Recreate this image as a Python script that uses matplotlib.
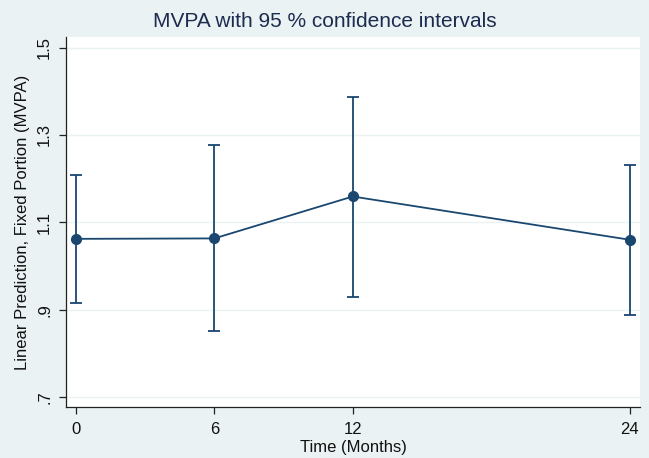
import matplotlib
matplotlib.use("Agg")
import matplotlib.pyplot as plt
import numpy as np

# marginsplot values
months = [0, 6, 12, 24]
mvpa = [1.062, 1.063, 1.159, 1.060]
ci_low = [0.915, 0.851, 0.928, 0.887]
ci_high = [1.209, 1.276, 1.387, 1.232]
yticks = [0.7, 0.9, 1.1, 1.3, 1.5]
ytick_labels = [".7", ".9", "1.1", "1.3", "1.5"]

plt.rcParams['font.family'] = ['Liberation Sans', 'DejaVu Sans']

bg = '#eaf2f3'
navy = '#1a476f'

fig = plt.figure(figsize=(6.49, 4.58), dpi=100, facecolor=bg)
ax = fig.add_axes([0.1017, 0.1114, 0.8843, 0.8076])
ax.set_facecolor('white')

mvpa = np.asarray(mvpa)
yerr = [mvpa - np.asarray(ci_low), np.asarray(ci_high) - mvpa]
ax.errorbar(months, mvpa, yerr=yerr, color=navy, lw=1.3, marker='o', ms=7,
            capsize=4, capthick=1.3, elinewidth=1.3, zorder=3)

ax.set_xlim(-0.43, 24.45)
ax.set_ylim(0.677, 1.524)
ax.set_xticks(months)
ax.set_xticklabels([str(m) for m in months])
ax.set_yticks(yticks)
ax.set_yticklabels(ytick_labels, rotation=90, va='center')
ax.yaxis.grid(True, color=bg, lw=1.0)
ax.set_axisbelow(True)

for s in ['top', 'right']:
    ax.spines[s].set_visible(False)
for s in ['left', 'bottom']:
    ax.spines[s].set_color('#222222')
    ax.spines[s].set_linewidth(0.9)
ax.tick_params(direction='out', length=5, width=0.9, color='#222222',
               labelsize=12, labelcolor='#111111', pad=5)
ax.tick_params(axis='x', pad=6)

ax.set_xlabel('Time (Months)', fontsize=12, color='#111111', labelpad=2)
ax.set_ylabel('Linear Prediction, Fixed Portion (MVPA)', fontsize=12,
              color='#111111', labelpad=5)
fig.text(0.5, 0.953, 'MVPA with 95 % confidence intervals', ha='center',
         va='center', fontsize=15, color='#1c2b4f')

fig.savefig('out.png', dpi=100, facecolor=bg)
